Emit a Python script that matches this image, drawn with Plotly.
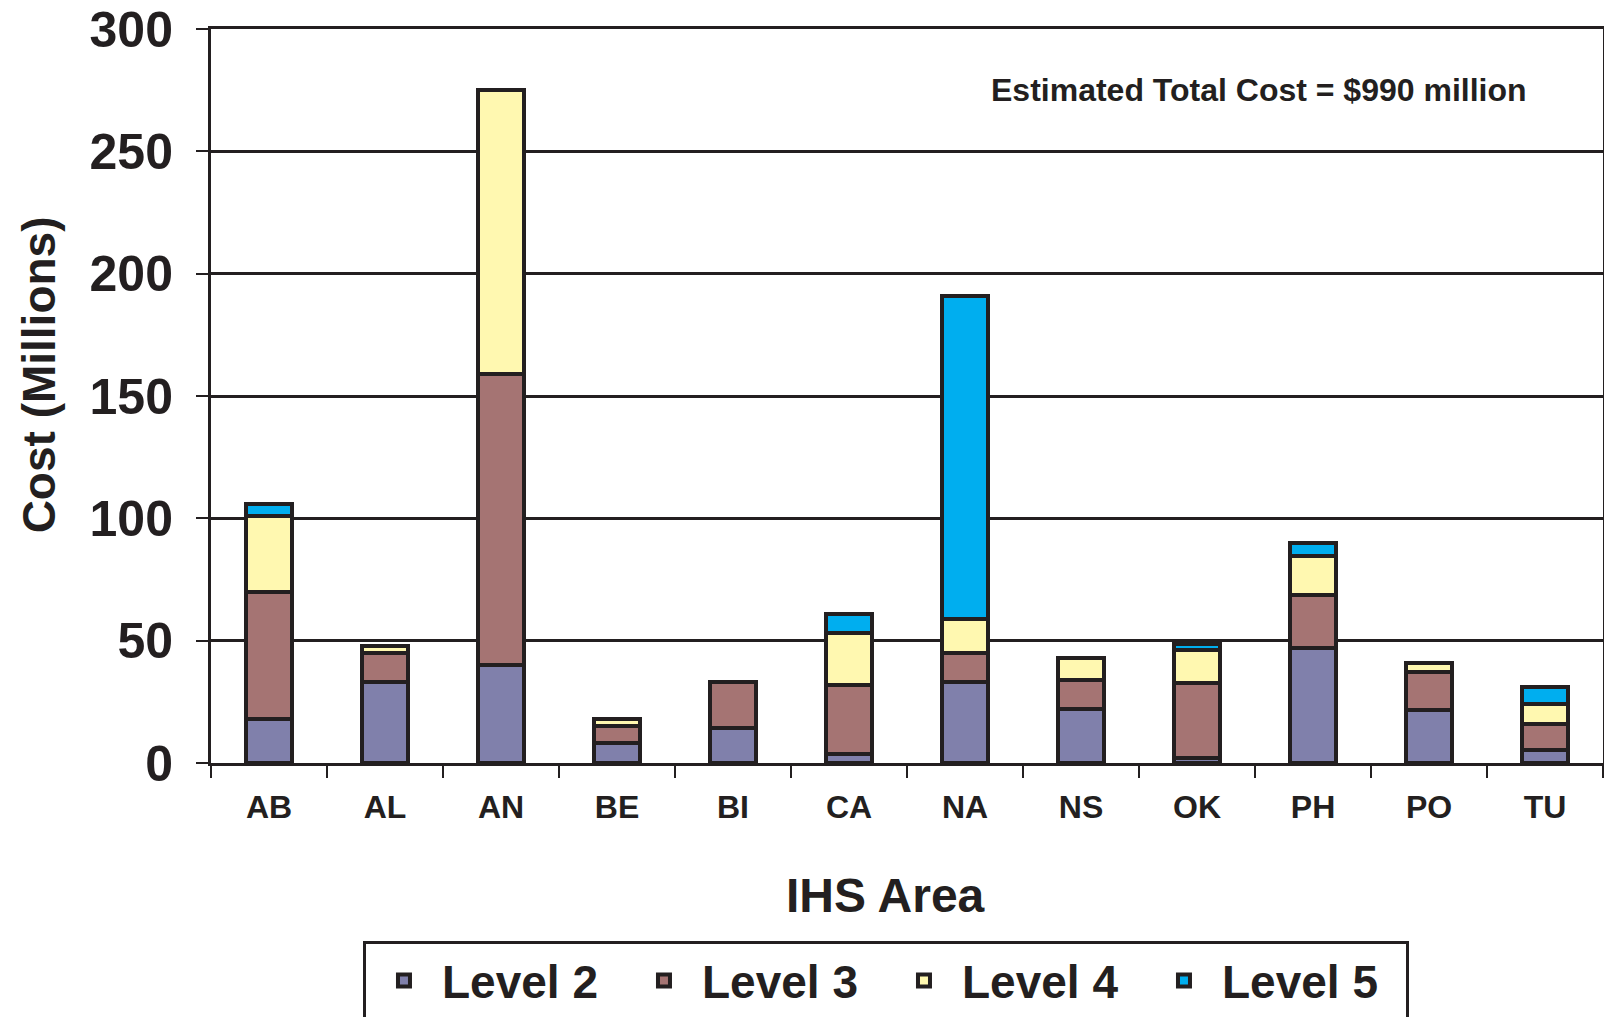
import plotly.graph_objects as go

areas = ["AB", "AL", "AN", "BE", "BI", "CA", "NA", "NS", "OK", "PH", "PO", "TU"]
level2 = [18, 33, 40, 8, 14.5, 3.5, 33, 22, 2, 47, 21.5, 5.5]
level3 = [52, 12, 119, 7, 18.5, 28.5, 12, 12, 30.5, 21.5, 15.5, 10.5]
level4 = [31, 3, 116, 3, None, 21, 14, 9, 13.5, 16, 4, 8]
level5 = [5, None, None, None, None, 8, 132, None, 2.5, 5.5, None, 7]

series_names = ["Level 2", "Level 3", "Level 4", "Level 5"]
series_values = [level2, level3, level4, level5]
colors = ["#8080ab", "#a57473", "#fff8b0", "#00aeef"]
y_ticks = [0, 50, 100, 150, 200, 250, 300]

ink = "#231f20"
font_family = "Liberation Sans, Arial, sans-serif"

fig = go.Figure()
for name, vals, col in zip(series_names, series_values, colors):
    fig.add_trace(go.Bar(
        x=areas, y=vals, name=name,
        marker=dict(color=col, line=dict(color=ink, width=4)),
    ))

fig.update_layout(
    barmode="stack",
    bargap=0.597,
    width=1604, height=1017,
    margin=dict(l=211, r=1, t=29, b=254, autoexpand=False),
    plot_bgcolor="white", paper_bgcolor="white",
    font=dict(family=font_family, color=ink, weight="bold"),
    xaxis=dict(
        showline=True, linecolor=ink, linewidth=3, mirror=True,
        ticks="outside", tickson="boundaries", ticklen=12, tickwidth=2, tickcolor=ink,
        tickfont=dict(size=32, family=font_family, color=ink, weight="bold"),
        ticklabelstandoff=14,
    ),
    yaxis=dict(
        range=[0, 300], tickvals=y_ticks, ticklabeloverflow="allow",
        showline=True, linecolor=ink, linewidth=3, mirror=True,
        showgrid=True, gridcolor=ink, gridwidth=2.5, zeroline=False,
        ticks="outside", ticklen=12, tickwidth=2, tickcolor=ink,
        tickfont=dict(size=50, family=font_family, color=ink, weight="bold"),
        ticklabelstandoff=13,
    ),
    legend=dict(
        orientation="h", x=0.4849, xanchor="center", y=-0.2425, yanchor="top",
        bordercolor=ink, borderwidth=3, bgcolor="white",
        font=dict(size=46, family=font_family, color=ink, weight="bold"),
        itemwidth=66,
        entrywidth=179, entrywidthmode="pixels",
        traceorder="normal",
    ),
    annotations=[
        dict(
            text="Estimated Total Cost = $990 million",
            xref="paper", yref="paper", x=0.7527, y=0.917, xanchor="center", yanchor="middle",
            showarrow=False, font=dict(size=32, family=font_family, color=ink, weight="bold"),
        ),
        dict(
            text="IHS Area",
            xref="paper", yref="paper", x=0.4849, y=-0.180, xanchor="center", yanchor="middle",
            showarrow=False, font=dict(size=48, family=font_family, color=ink, weight="bold"),
        ),
        dict(
            text="Cost (Millions)", textangle=-90,
            xref="paper", yref="paper", x=-0.1236, y=0.5294, xanchor="center", yanchor="middle",
            showarrow=False, font=dict(size=46, family=font_family, color=ink, weight="bold"),
        ),
    ],
)

fig.write_html(
    "out.html",
    config={"displayModeBar": False},
    post_script="document.body.style.margin='0';document.body.style.overflow='hidden';",
)
